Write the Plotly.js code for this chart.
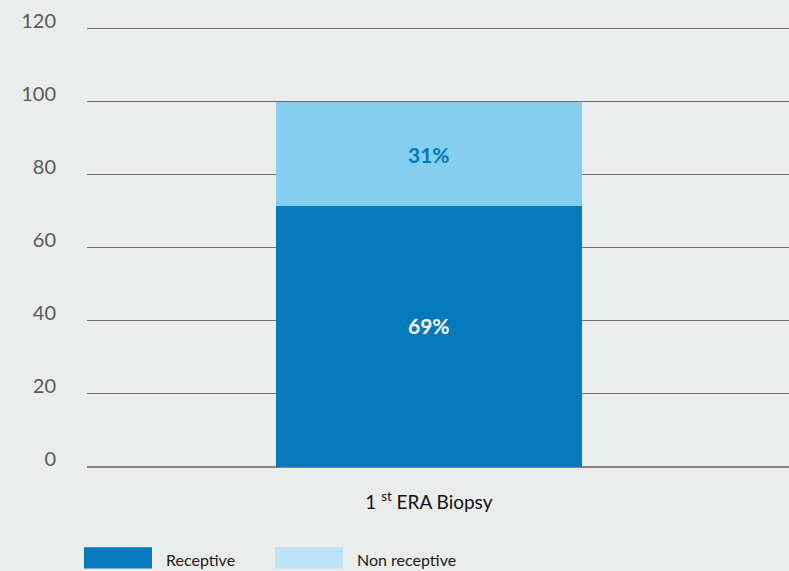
<!DOCTYPE html>
<html>
<head>
<meta charset="utf-8">
<script src="https://cdn.plot.ly/plotly-3.0.1.min.js"></script>
<style>html,body{margin:0;padding:0;background:#ebecec;}#chart{width:789px;height:571px;}</style>
</head>
<body>
<div id="chart"></div>
<script>
// Data
var categories = ["1 <sup>st</sup> ERA Biopsy"];
var receptiveValues = [71.6];
var nonReceptiveValues = [28.4];
var receptiveLabels = ["69%"];
var nonReceptiveLabels = ["31%"];
var seriesNames = ["Receptive", "Non receptive"];
var yTicks = [0, 20, 40, 60, 80, 100, 120];

var darkBlue = "#0479bc";
var lightBlue = "#84cff0";
var legendLight = "#bee3f6";

var traces = [
  {
    type: "bar", x: categories, y: receptiveValues, name: seriesNames[0],
    marker: {color: darkBlue}, width: 0.436, showlegend: false, hoverinfo: "none"
  },
  {
    type: "bar", x: categories, y: nonReceptiveValues, name: seriesNames[1],
    marker: {color: lightBlue}, width: 0.436, showlegend: false, hoverinfo: "none"
  }
];

var shapes = [];
var annotations = [];

// value labels, placed from the data
categories.forEach(function(c, i){
  annotations.push({x: c, y: receptiveValues[i] / 2, xref: "x", yref: "y",
    yshift: 11, showarrow: false, text: "<b>" + receptiveLabels[i] + "</b>",
    font: {color: "#ffffff", size: 21, family: "Lato, sans-serif"}});
  annotations.push({x: c, y: receptiveValues[i] + nonReceptiveValues[i] / 2, xref: "x", yref: "y",
    yshift: -1, showarrow: false, text: "<b>" + nonReceptiveLabels[i] + "</b>",
    font: {color: darkBlue, size: 21, family: "Lato, sans-serif"}});
});

var legendItems = [
  {x0: 84, name: seriesNames[0], color: darkBlue},
  {x0: 275, name: seriesNames[1], color: legendLight}
];
var plotH = 438;
legendItems.forEach(function(it){
  shapes.push({type: "rect", xref: "paper", yref: "paper",
    x0: (it.x0 - 87) / 702, x1: (it.x0 + 68 - 87) / 702,
    y0: -(568 - 467) / plotH, y1: -(547 - 467) / plotH,
    fillcolor: it.color, line: {width: 0}});
  annotations.push({xref: "paper", yref: "paper", x: (it.x0 + 80 - 87) / 702,
    y: -(571 - 467) / plotH, xanchor: "left", yanchor: "bottom", showarrow: false,
    text: it.name, font: {size: 16, color: "#1a1a1a", family: "Lato, sans-serif"}});
});

var layout = {
  width: 789, height: 571,
  margin: {l: 87, r: 0, t: 27, b: 104},
  paper_bgcolor: "#ebecec", plot_bgcolor: "#ebecec",
  barmode: "stack",
  showlegend: false,
  font: {family: "Lato, sans-serif"},
  xaxis: {
    range: [-0.487, 0.513], showgrid: false, zeroline: false, showline: false,
    ticks: "", ticklabelstandoff: 22,
    tickfont: {size: 19, color: "#111111", family: "Lato, sans-serif"}
  },
  yaxis: {
    range: [0, 120.5], tickvals: yTicks, ticktext: yTicks.map(String),
    showgrid: true, gridcolor: "#6e6e6e", gridwidth: 1,
    zeroline: true, zerolinecolor: "#858585", zerolinewidth: 2,
    showline: false, ticks: "", ticklabelstandoff: 30, ticklabelshift: -8,
    tickfont: {size: 20, color: "#5a5a5a", family: "Lato, sans-serif"}
  },
  shapes: shapes,
  annotations: annotations
};

Plotly.newPlot("chart", traces, layout, {displayModeBar: false, staticPlot: true});
</script>
</body>
</html>
